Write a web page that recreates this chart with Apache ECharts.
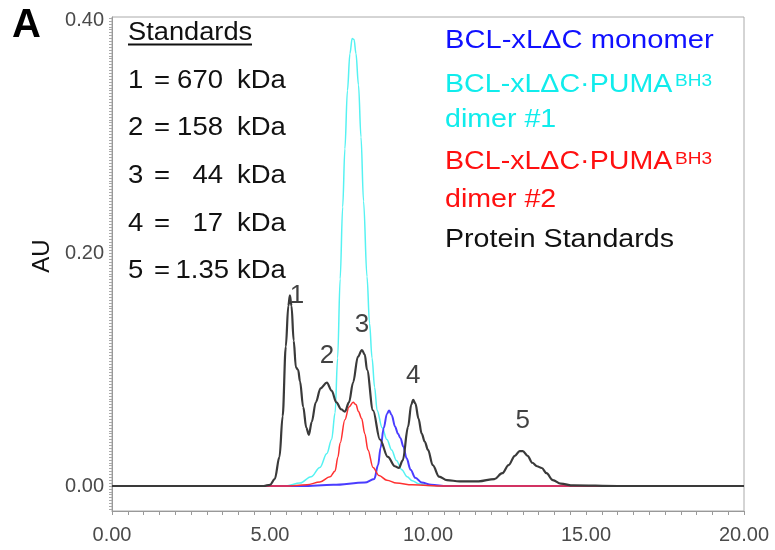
<!DOCTYPE html>
<html><head><meta charset="utf-8">
<script src="https://cdn.jsdelivr.net/npm/echarts@6/dist/echarts.min.js"></script>
<style>html,body{margin:0;padding:0;background:#fff}#c{width:775px;height:550px}</style>
</head><body><div id="c"></div><script>
// ---- data ----
const xTickLabels = [0, 5, 10, 15, 20];
const yTickLabels = [0, 0.2, 0.4];

const standardsX = [0,4.8,5.0,5.15,5.3,5.4,5.5,5.58,5.63,5.68,5.75,5.82,5.89,5.95,6.05,6.15,6.23,6.32,6.45,6.6,6.8,6.95,7.1,7.25,7.37,7.5,7.63,7.78,7.91,8.0,8.07,8.26,8.48,8.73,8.95,9.08,9.2,9.37,9.47,9.53,9.6,9.7,9.8,9.9,10.0,10.15,10.35,10.6,11.0,11.6,12.1,12.35,12.55,12.75,12.9,13.0,13.15,13.3,13.45,13.6,13.75,13.95,14.2,14.6,16,20];
const standardsY = [0,0,0.001,0.006,0.025,0.06,0.12,0.155,0.164,0.155,0.125,0.102,0.1,0.09,0.068,0.05,0.044,0.055,0.072,0.084,0.089,0.082,0.072,0.066,0.064,0.072,0.089,0.111,0.117,0.113,0.1,0.065,0.04,0.025,0.017,0.0155,0.022,0.051,0.07,0.074,0.071,0.058,0.045,0.038,0.031,0.018,0.008,0.005,0.004,0.004,0.006,0.011,0.018,0.026,0.030,0.030,0.026,0.02,0.017,0.0155,0.011,0.005,0.002,0.0005,0,0];

const dimer1X = [0,5.5,5.95,6.3,6.58,6.8,6.95,7.06,7.14,7.22,7.3,7.37,7.45,7.53,7.6,7.66,7.72,7.8,7.88,7.96,8.07,8.15,8.23,8.31,8.39,8.55,8.7,8.85,9.0,9.17,9.34,9.5,9.7,10.0,10.5,20];
const dimer1Y = [0,0,0.0025,0.008,0.016,0.028,0.04,0.063,0.11,0.178,0.24,0.29,0.34,0.372,0.385,0.384,0.372,0.345,0.3,0.245,0.18,0.14,0.11,0.085,0.065,0.05,0.04,0.031,0.022,0.014,0.008,0.0045,0.002,0.0005,0,0];

const dimer2X = [0,5.5,6.17,6.58,6.9,7.06,7.15,7.22,7.37,7.5,7.63,7.72,7.8,7.9,8.0,8.1,8.26,8.45,8.7,9.0,9.5,10.5,20];
const dimer2Y = [0,0,0.001,0.0035,0.008,0.013,0.025,0.037,0.057,0.068,0.072,0.07,0.064,0.058,0.045,0.031,0.016,0.009,0.005,0.0025,0.001,0,0];

const monomerX = [0,6.0,7.0,8.0,8.3,8.42,8.5,8.6,8.7,8.77,8.85,8.96,9.05,9.13,9.22,9.32,9.45,9.6,9.8,10.1,10.6,20];
const monomerY = [0,0,0.001,0.003,0.006,0.018,0.033,0.05,0.062,0.065,0.061,0.051,0.045,0.041,0.034,0.024,0.014,0.007,0.003,0.001,0,0];

const peakNames = ['1','2','3','4','5'];
const peakX = [5.85, 6.80, 7.91, 9.53, 13.0];
const peakY = [0.164, 0.112, 0.139, 0.095, 0.056];

const standardNums = ['1','2','3','4','5'];
const standardVals = ['670','158','44','17','1.35'];

// ---- chart ----
const FONT = '"Liberation Sans", Arial, sans-serif';
const pairs = (xs, ys) => xs.map((x, i) => [x, ys[i]]);
const yTicks = [];
for (let k = -8; k <= 161; k++) yTicks.push(+(k * 0.0025).toFixed(4));

const chart = echarts.init(document.getElementById('c'), null, {renderer: 'canvas'});

const graphics = [];
const txt = (x, y, text, size, color, opts = {}) => graphics.push({
  type: 'text', x: x, y: y, scaleX: opts.sx || 1.12, scaleY: 1, rotation: opts.rot || 0,
  style: {x: 0, y: 0, text: text, font: (opts.bold ? 'bold ' : '') + size + 'px ' + FONT,
    fill: color, align: opts.align || 'left', verticalAlign: 'middle'}
});

txt(12, 26, 'A', 40, '#000', {bold: true, sx: 1});
txt(42, 256, 'AU', 24, '#111', {sx: 1, rot: Math.PI / 2, align: 'center'});

// Standards block
txt(128, 33, 'Standards', 25, '#111', {sx: 1.09});
graphics.push({type: 'line', shape: {x1: 128, y1: 44.5, x2: 252, y2: 44.5}, style: {stroke: '#111', lineWidth: 2}});
const rowY = [81.5, 128.5, 176.5, 224, 271.5];
standardNums.forEach((n, i) => {
  txt(128, rowY[i], n, 25, '#111', {sx: 1.1});
  txt(154, rowY[i], '=', 25, '#111', {sx: 1.1});
  txt(i === 4 ? 229 : 223, rowY[i], standardVals[i], 25, '#111', {align: 'right', sx: 1.1});
  txt(237, rowY[i], 'kDa', 25, '#111', {sx: 1.1});
});

// legend texts
txt(445, 41, 'BCL-xL\u0394C monomer', 26, '#1010ff', {sx: 1.12});
txt(445, 84.5, 'BCL-xL\u0394C\u00b7PUMA', 26, '#10ecec', {sx: 1.1});
txt(675, 81.5, 'BH3', 17, '#10ecec', {sx: 1.12});
txt(445, 120, 'dimer #1', 26, '#10ecec', {sx: 1.1});
txt(445, 162, 'BCL-xL\u0394C\u00b7PUMA', 26, '#ff1010', {sx: 1.1});
txt(675, 159, 'BH3', 17, '#ff1010', {sx: 1.12});
txt(445, 200, 'dimer #2', 26, '#ff1010', {sx: 1.1});
txt(445, 240, 'Protein Standards', 26, '#111', {sx: 1.1});

const lineSeries = (name, xs, ys, color, w) => ({
  name: name, type: 'line', data: pairs(xs, ys), showSymbol: false, symbol: 'none',
  smooth: 0.35, smoothMonotone: 'x', lineStyle: {color: color, width: w}, silent: true, animation: false
});

chart.setOption({
  backgroundColor: '#fff',
  animation: false,
  grid: {left: 112, right: 31, top: 17, bottom: 39, show: true, borderColor: '#aaa', borderWidth: 1},
  xAxis: {
    type: 'value', min: 0, max: 20, interval: 5,
    axisLine: {show: true, onZero: false, lineStyle: {color: '#999'}},
    axisTick: {show: true, length: 4, lineStyle: {color: '#999'}},
    minorTick: {show: true, splitNumber: 10, length: 4, lineStyle: {color: '#999'}},
    splitLine: {show: false},
    axisLabel: {customValues: xTickLabels, formatter: v => v.toFixed(2), fontSize: 20, color: '#4a4a4a', fontFamily: FONT, margin: 14}
  },
  yAxis: {
    type: 'value', min: -0.0215, max: 0.4034,
    axisLine: {show: true, onZero: false, lineStyle: {color: '#999'}},
    axisTick: {show: true, customValues: yTicks, length: 3, lineStyle: {color: '#aaa'}},
    splitLine: {show: false},
    axisLabel: {customValues: yTickLabels, formatter: v => v.toFixed(2), fontSize: 20, color: '#4a4a4a', fontFamily: FONT, margin: 8}
  },
  graphic: graphics,
  series: [
    lineSeries('BCL-xL\u0394C\u00b7PUMA BH3 dimer #1', dimer1X, dimer1Y, '#55f2f2', 1.5),
    lineSeries('BCL-xL\u0394C monomer', monomerX, monomerY, '#4a3cff', 2),
    lineSeries('BCL-xL\u0394C\u00b7PUMA BH3 dimer #2', dimer2X, dimer2Y, '#ff3030', 1.5),
    lineSeries('Protein Standards', standardsX, standardsY, '#3a3a3a', 2.2),
    {
      type: 'scatter', symbolSize: 0, silent: true,
      data: peakNames.map((n, i) => ({name: n, value: [peakX[i], peakY[i]]})),
      label: {show: true, position: 'inside', formatter: p => p.name, fontSize: 26, color: '#111', fontFamily: FONT}
    }
  ]
});
</script></body></html>
